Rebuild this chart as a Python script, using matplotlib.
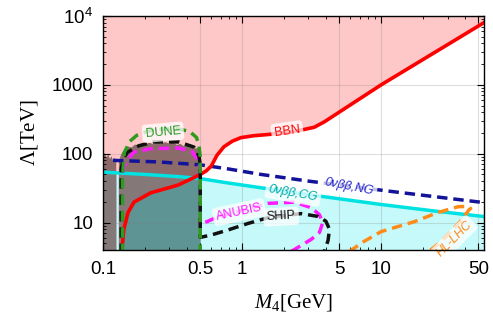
import matplotlib
matplotlib.use("Agg")
import matplotlib.pyplot as plt
from matplotlib.patches import Polygon
from matplotlib.ticker import FixedLocator, FixedFormatter, LogLocator, NullFormatter

plt.rcParams["font.family"] = ["Liberation Sans", "DejaVu Sans"]
plt.rcParams["mathtext.fontset"] = "custom"
plt.rcParams["mathtext.rm"] = "Liberation Serif"
plt.rcParams["mathtext.it"] = "Liberation Serif:italic"
plt.rcParams["mathtext.sf"] = "Liberation Sans"

# ---- data (M4 in GeV, Lambda in TeV) ----
bbn_m = [0.136, 0.141, 0.151, 0.167, 0.22, 0.346, 0.45, 0.5, 0.55, 0.6, 0.66, 0.74,
         0.85, 0.98, 1.2, 1.54, 2.2, 2.8, 3.3, 3.9, 10, 56]
bbn_l = [3.5, 7.9, 13.9, 19.8, 27, 35, 45, 50, 56, 66, 95, 126,
         152, 171, 182, 190, 205, 225, 242, 290, 1000, 8200]

cg_m = [0.09, 0.1, 0.2, 0.35, 0.5, 0.8, 1.37, 3, 10, 25, 60]
cg_l = [54.5, 54, 50, 46.5, 43.5, 37.5, 32, 25.5, 18.3, 14.6, 12.0]

ng_m = [0.118, 0.25, 0.5, 0.8, 1.37, 3, 12.4, 56]
ng_l = [80, 76, 69, 60, 50, 40, 28, 19.4]

# excluded (brown) region, two pieces with a noisy upper edge
strip_m = [0.1, 0.103, 0.106, 0.109, 0.112, 0.115, 0.118, 0.121, 0.1245]
strip_l = [95, 102, 88, 98, 84, 92, 80, 88, 76]
dome_m = [0.130, 0.135, 0.14, 0.145, 0.15, 0.16, 0.17, 0.18, 0.19, 0.20, 0.215,
          0.23, 0.245, 0.26, 0.28, 0.30, 0.32, 0.34, 0.36, 0.38, 0.40, 0.42,
          0.44, 0.46, 0.48, 0.50]
dome_l = [78, 98, 110, 120, 128, 123, 136, 128, 142, 134, 145,
          137, 146, 139, 147, 140, 144, 134, 139, 129, 133, 124,
          127, 119, 121, 112]

dune_m = [0.138, 0.138, 0.142, 0.155, 0.175, 0.21, 0.27, 0.35, 0.42, 0.47, 0.49, 0.5, 0.5]
dune_l = [3.5, 46, 103, 150, 185, 212, 228, 228, 210, 172, 130, 90, 3.5]

ship_m = [0.135, 0.135, 0.14, 0.15, 0.18, 0.23, 0.35, 0.45, 0.49, 0.5, 0.5, 0.6,
          0.79, 1.1, 1.54, 2.66, 3.5, 4.0, 4.25, 4.15, 3.9]
ship_l = [3.5, 60, 85, 105, 130, 148, 148, 125, 92, 70, 6.1, 6.6,
          7.8, 9.7, 11.8, 13.5, 12.3, 10.5, 8, 5.5, 3.8]

anubis_m = [0.137, 0.137, 0.146, 0.167, 0.22, 0.35, 0.44, 0.49, 0.5, 0.5, 0.57,
            0.66, 1.0, 1.54, 2.37, 3.14, 3.6, 3.8, 3.6, 3.14, 2.25]
anubis_l = [3.5, 50, 76, 106, 118, 121, 106, 76, 50, 9.4, 10.5,
            12, 15, 19, 19.8, 16.5, 13, 10, 7.2, 5.7, 3.8]

lhc_m = [5.9, 7.5, 10, 17.3, 25.6, 35.8, 42, 44, 43, 38, 32, 27, 22]
lhc_l = [3.8, 5.3, 7.4, 10.3, 14, 17, 17.2, 16, 15.5, 11, 7.5, 5.3, 3.8]

x_ticks = [0.1, 0.5, 1, 5, 10, 50]
x_labels = ["0.1", "0.5", "1", "5", "10", "50"]
y_ticks = [10, 100, 1000, 10000]
y_labels = ["10", "100", "1000", r"$\mathsf{10^{4}}$"]

# colours
C_PINK = "#FFC8C8"
C_CYANFILL = "#C6F9F9"
C_BROWN = "#8C6A6A"
C_GRAYBR = "#857878"
C_TEAL = "#5E9494"

LO, HI = 3.0, 2.0e4
XL, XR = 0.09, 60

fig = plt.figure(figsize=(4.93, 3.32), dpi=100)
ax = fig.add_axes([0.209, 0.247, 0.773, 0.705])
ax.set_xscale("log")
ax.set_yscale("log")


def poly(xs, ys, color, clip=None, add=True, z=1):
    p = Polygon(list(zip(xs, ys)), closed=True, fc=color, ec="none",
                lw=0, zorder=z, transform=ax.transData)
    if add:
        ax.add_patch(p)
    if clip is not None:
        p.set_clip_path(clip)
    return p


# BBN excluded region (above the red curve)
poly([XL] + bbn_m + [XR, XR, XL], [LO] + bbn_l + [bbn_l[-1], HI, HI], C_PINK)
# 0vbb CG excluded region (below the cyan curve)
poly(cg_m + [XR, XL], cg_l + [LO, LO], C_CYANFILL)

# brown region pieces
strip_x = [strip_m[0]] + strip_m + [strip_m[-1]]
strip_y = [LO] + strip_l + [LO]
dome_x = [dome_m[0]] + dome_m + [dome_m[-1]]
dome_y = [LO] + dome_l + [LO]
poly(strip_x, strip_y, C_BROWN)
poly(dome_x, dome_y, C_BROWN)
strip_clip = poly(strip_x, strip_y, "none", add=False)
dome_clip = poly(dome_x, dome_y, "none", add=False)
# overlap with the cyan region
poly(cg_m + [XR, XL], cg_l + [LO, LO], C_GRAYBR, clip=strip_clip)
poly(cg_m + [XR, XL], cg_l + [LO, LO], C_GRAYBR, clip=dome_clip)
# below BBN curve inside the dome
poly(bbn_m + [XR, bbn_m[0]], bbn_l + [LO, LO], C_TEAL, clip=dome_clip)

ax.set_xlim(0.1, 55)
ax.set_ylim(4.0, 1.0e4)

dash = (0, (3.0, 1.7))
ax.plot(cg_m, cg_l, color="#00E2E2", lw=2.5, zorder=3)
ax.plot(ng_m, ng_l, color="#12129A", lw=2.5, ls=dash, zorder=3)
ax.plot(bbn_m, bbn_l, color="#FF0000", lw=2.6, zorder=4)
ax.plot(lhc_m, lhc_l, color="#FF8C1A", lw=2.5, ls=dash, zorder=4)
ax.plot(anubis_m, anubis_l, color="#FF1AFF", lw=2.5, ls=dash, zorder=5)
ax.plot(ship_m, ship_l, color="#111111", lw=2.5, ls=dash, zorder=5)
ax.plot(dune_m, dune_l, color="#2E9A1E", lw=2.5, ls=dash, zorder=6)

box = dict(boxstyle="round,pad=0.25", fc="white", ec="none", alpha=0.75)
labels = [
    (0.27, 205, "DUNE", "#2A9A2A", 5, "normal"),
    (2.11, 212, "BBN", "#FF0000", 8, "normal"),
    (5.9, 33, "0νββ,NG", "#2828D0", -11, "italic"),
    (2.33, 26.5, "0νββ,CG", "#00AAAA", -10, "italic"),
    (0.95, 14.2, "ANUBIS", "#FF1AFF", 12, "normal"),
    (1.91, 12.2, "SHIP", "#111111", 3, "normal"),
    (33.5, 5.8, "HL-LHC", "#FF8C1A", 45, "italic"),
]
for x, y, s, c, rot, st in labels:
    ax.text(x, y, s, color=c, fontsize=9, rotation=rot, style=st,
            ha="center", va="center", rotation_mode="anchor",
            bbox=box, zorder=8)

# axes styling
ax.xaxis.set_major_locator(FixedLocator(x_ticks))
ax.xaxis.set_major_formatter(FixedFormatter(x_labels))
ax.xaxis.set_minor_locator(LogLocator(base=10, subs=range(2, 10), numticks=20))
ax.xaxis.set_minor_formatter(NullFormatter())
ax.yaxis.set_major_locator(FixedLocator(y_ticks))
ax.yaxis.set_major_formatter(FixedFormatter(y_labels))
ax.yaxis.set_minor_locator(LogLocator(base=10, subs=range(2, 10), numticks=20))
ax.yaxis.set_minor_formatter(NullFormatter())
ax.tick_params(which="both", direction="in", top=True, right=True, labelsize=13.5)
ax.tick_params(which="major", length=5, width=0.8)
ax.tick_params(which="minor", length=2.5, width=0.6)
ax.tick_params(axis="x", pad=8)
ax.tick_params(axis="y", pad=7)
ax.grid(True, which="major", color="#808080", alpha=0.25, lw=0.8)
ax.set_axisbelow(False)
for sp in ax.spines.values():
    sp.set_linewidth(1.0)
    sp.set_zorder(10)

ax.set_xlabel(r"$M_4[\mathrm{GeV}]$", fontsize=15, labelpad=10)
ax.set_ylabel(r"$\Lambda[\mathrm{TeV}]$", fontsize=15, labelpad=8)

fig.savefig("out.png", dpi=100)
